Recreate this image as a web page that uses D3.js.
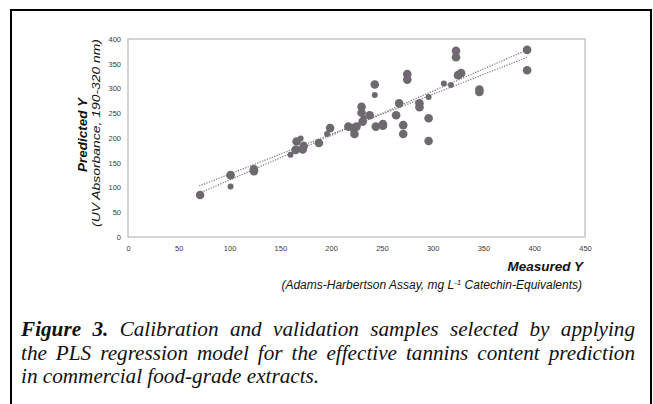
<!DOCTYPE html>
<meta charset="utf-8">
<title>Figure 3 - PLS calibration</title>
<style>
  html, body { margin: 0; padding: 0; background: #fff; }
  svg { display: block; }
  .tick text { font: 7.5px 'Liberation Sans', Arial, sans-serif; fill: #3a3a3a; }
  .axis-title { font-family: 'Liberation Sans', Arial, sans-serif; font-style: italic; fill: #111; }
  .caption { font-family: 'Liberation Serif', 'Times New Roman', serif; font-style: italic; font-size: 21.2px; fill: #111; }
  .pt { fill: #6e696e; }
  .fit { fill: none; stroke: #808080; stroke-width: 1.2px; stroke-dasharray: 1.3 1.3; }
</style>
<svg id="chart" width="653" height="404"></svg>
<script src="https://cdn.jsdelivr.net/npm/d3@7"></script>
<script>
  /* global d3 */
  'use strict'
  // values (mg/L catechin equivalents)
  const xTicks = [0, 50, 100, 150, 200, 250, 300, 350, 400, 450]
  const yTicks = [0, 50, 100, 150, 200, 250, 300, 350, 400]
  // calibration samples (larger markers)
  const calX = [71, 101, 124, 124, 165, 166, 173, 172, 188, 199, 217, 222, 223, 225,
    230, 230, 231, 238, 243, 244, 251, 251, 264, 267, 271, 271, 275, 275, 287, 287,
    296, 296, 323, 323, 325, 328, 346, 346, 393, 393]
  const calY = [85, 125, 137, 133, 176, 193, 184, 177, 190, 220, 223, 220, 208, 223,
    263, 251, 233, 246, 308, 223, 228, 225, 246, 270, 226, 208, 329, 318, 270, 262,
    240, 194, 376, 363, 327, 331, 298, 293, 378, 337]
  // validation samples (smaller markers)
  const valX = [101, 160, 170, 196, 232, 243, 296, 311, 318]
  const valY = [102, 166, 199, 208, 240, 287, 283, 310, 307]
  // the two regression lines (end points)
  const fitAX = [70, 393], fitAY = [103, 363]
  const fitBX = [72, 393], fitBY = [90, 378]

  const captionLines = [
    'Figure 3. Calibration and validation samples selected by applying',
    'the PLS regression model for the effective tannins content prediction',
    'in commercial food-grade extracts.',
  ]

  const svg = d3.select('#chart')

  // frame round the whole figure (bottom edge runs off the picture)
  svg.append('rect')
    .attr('x', 11).attr('y', 10).attr('width', 640).attr('height', 420)
    .attr('fill', 'none').attr('stroke', '#000').attr('stroke-width', 2)

  const x = d3.scaleLinear().domain([0, 450]).range([128, 585])
  const y = d3.scaleLinear().domain([0, 400]).range([237, 39])

  // plot area border
  svg.append('rect')
    .attr('x', x(0)).attr('y', y(400))
    .attr('width', x(450) - x(0)).attr('height', y(0) - y(400))
    .attr('fill', 'none').attr('stroke', '#aaa').attr('stroke-width', 1)

  svg.append('g')
    .attr('transform', `translate(0,${y(0)})`)
    .call(d3.axisBottom(x).tickValues(xTicks).tickSize(0).tickPadding(9))
    .call(g => g.select('.domain').remove())

  svg.append('g')
    .attr('transform', `translate(${x(0)},0)`)
    .call(d3.axisLeft(y).tickValues(yTicks).tickSize(0).tickPadding(7))
    .call(g => g.select('.domain').remove())

  // regression lines
  const line = d3.line().x(d => x(d[0])).y(d => y(d[1]))
  svg.append('path').attr('class', 'fit').attr('d', line(d3.zip(fitAX, fitAY)))
  svg.append('path').attr('class', 'fit').attr('d', line(d3.zip(fitBX, fitBY)))

  svg.append('g').selectAll('circle')
    .data(d3.zip(calX, calY))
    .join('circle').attr('class', 'pt')
    .attr('cx', d => x(d[0])).attr('cy', d => y(d[1])).attr('r', 4.3)
  svg.append('g').selectAll('circle')
    .data(d3.zip(valX, valY))
    .join('circle').attr('class', 'pt')
    .attr('cx', d => x(d[0])).attr('cy', d => y(d[1])).attr('r', 3)

  // y axis titles
  svg.append('text').attr('class', 'axis-title')
    .attr('transform', 'translate(87,135) rotate(-90)')
    .attr('text-anchor', 'middle').attr('font-weight', 'bold').attr('font-size', 13.5)
    .text('Predicted Y')
  svg.append('text').attr('class', 'axis-title')
    .attr('transform', 'translate(100,133) rotate(-90)')
    .attr('text-anchor', 'middle').attr('font-size', 11)
    .attr('textLength', 188).attr('lengthAdjust', 'spacingAndGlyphs')
    .text('(UV Absorbance, 190-320 nm)')

  // x axis titles
  svg.append('text').attr('class', 'axis-title')
    .attr('x', 583).attr('y', 271)
    .attr('text-anchor', 'end').attr('font-weight', 'bold').attr('font-size', 13.5)
    .text('Measured Y')
  const sub = svg.append('text').attr('class', 'axis-title')
    .attr('x', 582).attr('y', 289)
    .attr('text-anchor', 'end').attr('font-size', 12)
  sub.append('tspan').text('(Adams-Harbertson Assay, mg L')
  sub.append('tspan').attr('dy', -4.5).attr('font-size', 8).text('-1')
  sub.append('tspan').attr('dy', 4.5).text(' Catechin-Equivalents)')

  // caption, justified word by word except the last line
  const capLeft = 21, capRight = 635, capTop = 336, capStep = 23.6
  captionLines.forEach((str, i) => {
    const words = str.split(' ')
    const g = svg.append('g').attr('class', 'caption')
    const nodes = words.map((w, j) => g.append('text')
      .attr('y', capTop + i * capStep)
      .attr('font-weight', i === 0 && j < 2 ? 'bold' : null)
      .text(w))
    const widths = nodes.map(n => n.node().getComputedTextLength())
    const total = d3.sum(widths)
    const last = i === captionLines.length - 1
    const gap = last ? 5.3 : (capRight - capLeft - total) / (words.length - 1)
    let cx = capLeft
    nodes.forEach((n, j) => {
      n.attr('x', cx)
      cx += widths[j] + gap
    })
  })
</script>
